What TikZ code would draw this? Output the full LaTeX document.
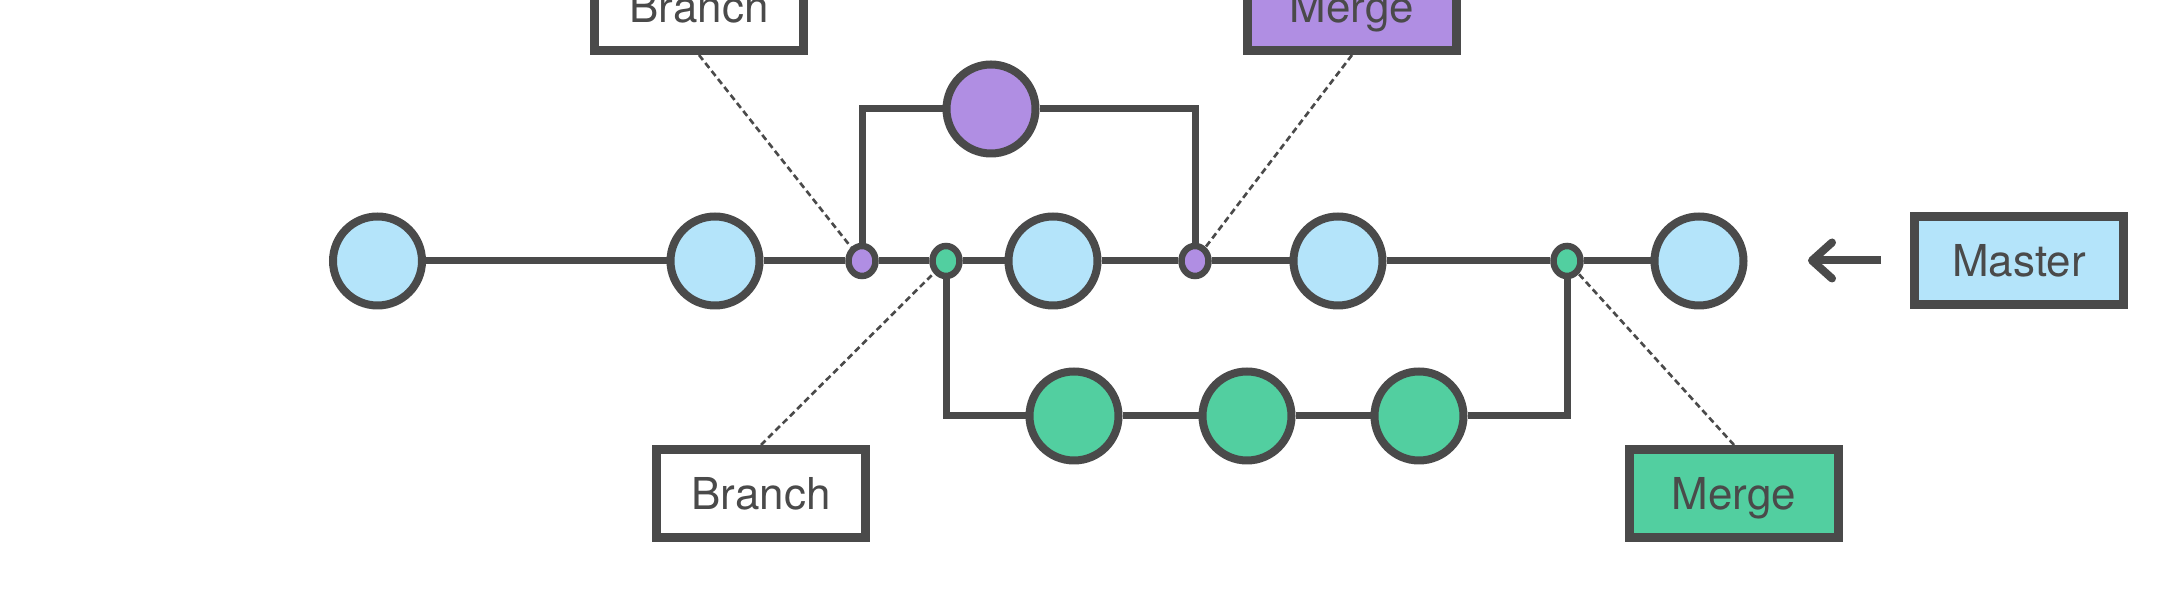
\documentclass[tikz,border=0pt]{standalone}
\usepackage{fontspec}
\setmainfont{TeX Gyre Heros}
\usetikzlibrary{shapes.geometric,arrows.meta}
\definecolor{linegray}{HTML}{4A4A4A}
\definecolor{masterblue}{HTML}{B4E4FA}
\definecolor{featpurple}{HTML}{B08EE3}
\definecolor{featgreen}{HTML}{52CFA0}
\tikzset{
  commit/.style={circle,draw=linegray,line width=0.08cm,
    minimum size=0.89cm,inner sep=0pt},
  junction/.style={ellipse,draw=linegray,line width=0.065cm,
    minimum width=0.27cm,minimum height=0.30cm,inner sep=0pt},
  tagbox/.style={draw=linegray,line width=0.09cm,minimum width=2.09cm,
    minimum height=0.88cm,inner sep=0pt,text=linegray,
    text height=0.32cm,text depth=0pt,font=\fontsize{12.5}{15}\selectfont},
  edgeline/.style={draw=linegray,line width=0.07cm},
  pointer/.style={draw=linegray,line width=0.75pt,dash pattern=on 1.8pt off 1.1pt},
}
\begin{document}
\begin{tikzpicture}
  \useasboundingbox (0,0) rectangle (21.67,6.12);
  % master line
  \node[commit,fill=masterblue] (m1) at (3.775,3.51) {};
  \node[commit,fill=masterblue] (m2) at (7.15,3.51) {};
  \node[junction,fill=featpurple] (pb) at (8.62,3.51) {};
  \node[junction,fill=featgreen] (gb) at (9.46,3.51) {};
  \node[commit,fill=masterblue] (m3) at (10.53,3.51) {};
  \node[junction,fill=featpurple] (pm) at (11.95,3.51) {};
  \node[commit,fill=masterblue] (m4) at (13.38,3.51) {};
  \node[junction,fill=featgreen] (gm) at (15.67,3.51) {};
  \node[commit,fill=masterblue] (m5) at (16.99,3.51) {};
  \draw[edgeline] (m1) -- (m2) -- (pb) -- (gb) -- (m3) -- (pm) -- (m4)
    -- (gm) -- (m5);
  % purple feature
  \node[commit,fill=featpurple] (p1) at (9.91,5.03) {};
  \draw[edgeline] (pb) |- (p1);
  \draw[edgeline] (p1) -| (pm);
  % green feature
  \node[commit,fill=featgreen] (g1) at (10.74,1.96) {};
  \node[commit,fill=featgreen] (g2) at (12.47,1.96) {};
  \node[commit,fill=featgreen] (g3) at (14.19,1.96) {};
  \draw[edgeline] (gb) |- (g1);
  \draw[edgeline] (g1) -- (g2) -- (g3);
  \draw[edgeline] (g3) -| (gm);
  % tags
  \node[tagbox,fill=white] (brtop) at (6.99,6.055) {Branch};
  \node[tagbox,fill=featpurple] (mgtop) at (13.52,6.055) {Merge};
  \node[tagbox,fill=white] (brbot) at (7.61,1.185) {Branch};
  \node[tagbox,fill=featgreen] (mgbot) at (17.34,1.185) {Merge};
  \node[tagbox,fill=masterblue] (master) at (20.19,3.515) {Master};
  \draw[pointer] (brtop.south) -- (pb);
  \draw[pointer] (mgtop.south) -- (pm);
  \draw[pointer] (brbot.north) -- (gb);
  \draw[pointer] (mgbot.north) -- (gm);
  \coordinate (tip) at (18.08,3.515);
  \draw[edgeline,line width=0.08cm,shorten <=0.29cm,
    -{Straight Barb[round,length=0.2cm,width=0.36cm]}] (master.west) -- (tip);
\end{tikzpicture}
\end{document}
